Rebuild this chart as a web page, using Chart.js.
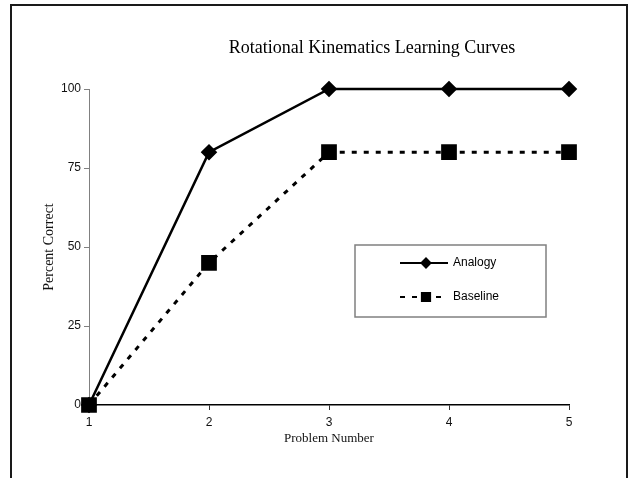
<!DOCTYPE html>
<html>
<head>
<meta charset="utf-8">
<script src="https://cdn.jsdelivr.net/npm/chart.js@4/dist/chart.umd.min.js"></script>
<style>
  html, body { margin: 0; padding: 0; background: #fff; overflow: hidden; }
  #frame { position: absolute; left: 10px; top: 4px; width: 614px; height: 480px;
           border: 2px solid #1a1a1a; border-bottom: none; }
  #wrap { position: absolute; left: 0; top: 0; width: 631px; height: 478px; }
</style>
</head>
<body>
<div id="frame"></div>
<div id="wrap"><canvas id="learning_chart" width="631" height="478"></canvas></div>
<script>
const CHART_TITLE = 'Rotational Kinematics Learning Curves';
const problems = ['1', '2', '3', '4', '5'];
const analogy = [0, 80, 100, 100, 100];
const baseline = [0, 45, 80, 80, 80];
const y_ticks = [0, 25, 50, 75, 100];

// title sits right of the plot centre in the original, so draw it by hand
const sheet_title = {
    id: 'sheet_title',
    afterDraw(chart) {
        const ctx = chart.ctx;
        const area = chart.chartArea;
        ctx.save();
        ctx.font = '18px "Liberation Serif"';
        ctx.fillStyle = '#000';
        ctx.textAlign = 'center';
        ctx.textBaseline = 'middle';
        ctx.fillText(CHART_TITLE, (area.left + area.right) / 2 + 43, 48);
        ctx.restore();
    }
};

// boxed legend inside the plot, like the spreadsheet one
const box_legend = {
    id: 'box_legend',
    afterDraw(chart) {
        const ctx = chart.ctx;
        const box = { x: 355, y: 245, w: 191, h: 72 };
        ctx.save();
        ctx.fillStyle = '#fff';
        ctx.fillRect(box.x, box.y, box.w, box.h);
        ctx.strokeStyle = '#808080';
        ctx.lineWidth = 1.5;
        ctx.strokeRect(box.x, box.y, box.w, box.h);
        chart.data.datasets.forEach(function(ds, i) {
            var y = box.y + 18 + i * 34;
            ctx.strokeStyle = '#000';
            ctx.fillStyle = '#000';
            ctx.lineWidth = 2;
            ctx.setLineDash(ds.borderDash || []);
            ctx.beginPath();
            ctx.moveTo(400, y);
            ctx.lineTo(448, y);
            ctx.stroke();
            ctx.setLineDash([]);
            Chart.helpers.drawPoint(ctx, { pointStyle: ds.pointStyle, radius: ds.legendRadius, rotation: 0, borderWidth: 1 }, 426, y);
            ctx.font = '12px "Liberation Sans"';
            ctx.textAlign = 'left';
            ctx.textBaseline = 'middle';
            ctx.fillText(ds.label, 453, y);
        });
        ctx.restore();
    }
};

window.onload = function() {
    const context = document.getElementById('learning_chart');
    new Chart(context, {
        type: 'line',
        data: {
            labels: problems,
            datasets: [{
                label: 'Analogy',
                data: analogy,
                borderColor: '#000',
                backgroundColor: '#000',
                borderWidth: 2.5,
                pointStyle: 'rectRot',
                pointRadius: 6.5,
                pointHoverRadius: 6.5,
                legendRadius: 4.5,
                order: 1,
                clip: false
            }, {
                label: 'Baseline',
                data: baseline,
                borderColor: '#000',
                backgroundColor: '#000',
                borderWidth: 3,
                borderDash: [5, 7],
                pointStyle: 'rect',
                pointRadius: 9,
                pointHoverRadius: 9,
                legendRadius: 5.8,
                order: 0,
                clip: false
            }]
        },
        options: {
            responsive: false,
            animation: false,
            layout: { padding: { top: 89, left: 0, right: 62, bottom: 20 } },
            plugins: {
                legend: { display: false },
                title: { display: false },
                tooltip: { enabled: false }
            },
            scales: {
                x: {
                    offset: false,
                    afterFit: function(scale) { scale.height = 53; },
                    grid: { drawOnChartArea: false, drawTicks: true, tickLength: 5, color: '#333' },
                    border: { color: '#000', width: 1.5 },
                    ticks: { color: '#111', padding: 5, font: { family: '"Liberation Sans"', size: 12 } },
                    title: {
                        display: true,
                        text: 'Problem Number',
                        color: '#111',
                        font: { family: '"Liberation Serif"', size: 13 },
                        padding: { top: 0, bottom: 12 }
                    }
                },
                y: {
                    min: 0,
                    max: 100,
                    afterFit: function(scale) { scale.width = 89; },
                    afterBuildTicks: function(scale) {
                        scale.ticks = y_ticks.map(function(v) { return { value: v }; });
                    },
                    grid: { drawOnChartArea: false, drawTicks: true, tickLength: 5, color: '#808080' },
                    border: { color: '#808080', width: 1 },
                    ticks: { color: '#111', padding: 3, font: { family: '"Liberation Sans"', size: 12 } },
                    title: {
                        display: true,
                        text: 'Percent Correct',
                        color: '#111',
                        font: { family: '"Liberation Serif"', size: 14 },
                        padding: { top: 41, bottom: 0 }
                    }
                }
            }
        },
        plugins: [sheet_title, box_legend]
    });
};
</script>
</body>
</html>
